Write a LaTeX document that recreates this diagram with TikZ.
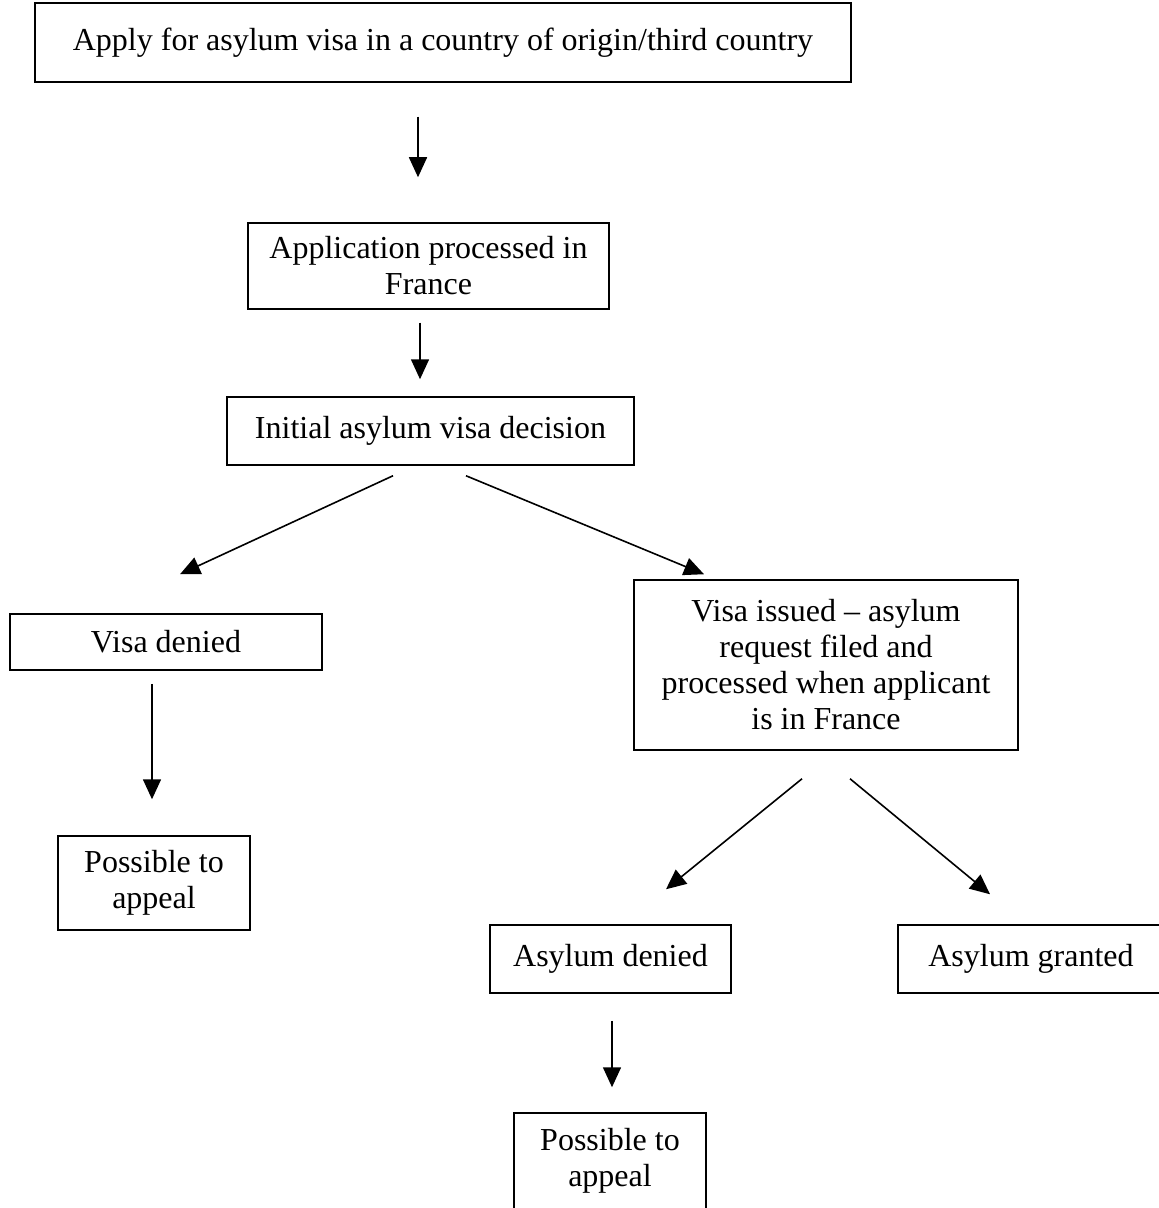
\documentclass[tikz,border=0pt]{standalone}
\usepackage{fontspec}
\setmainfont{Liberation Serif}
\usetikzlibrary{arrows.meta,calc}

\tikzset{
	stepbox/.style={draw, line width=0.75pt, align=center, inner sep=0pt,
		font=\fontsize{16}{18}\selectfont},
	arr/.style={line width=0.8pt, -{Triangle[length=10pt,width=9pt]}}
}

\begin{document}
\begin{tikzpicture}[x=0.5pt,y=-0.5pt]
	\useasboundingbox (0,0) rectangle (1159,1208);
	% boxes
	\node[stepbox, minimum width=408pt, minimum height=39.5pt] (apply) at (443,42.5)
		{Apply for asylum visa in a country of origin/third country};
	\node[stepbox, minimum width=180.5pt, minimum height=43pt] (proc) at (428.5,266)
		{Application processed in\\France};
	\node[stepbox, minimum width=203.5pt, minimum height=34pt] (dec) at (430.5,431)
		{Initial asylum visa decision};
	\node[stepbox, minimum width=156pt, minimum height=28pt] (vden) at (166,642)
		{Visa denied};
	\node[stepbox, minimum width=96pt, minimum height=47pt] (appone) at (154,883)
		{Possible to\\appeal};
	\node[stepbox, minimum width=192pt, minimum height=85pt] (issued) at (826,665)
		{Visa issued -- asylum\\request filed and\\processed when applicant\\is in France};
	\node[stepbox, minimum width=120.5pt, minimum height=34pt] (aden) at (610.5,959)
		{Asylum denied};
	\node[stepbox, minimum width=133pt, minimum height=34pt] (agr) at (1031,959)
		{Asylum granted};
	\node[stepbox, minimum width=96pt, minimum height=48pt] (apptwo) at (610,1161)
		{Possible to\\appeal};
	% arrows
	\draw[arr] ($(apply.south)+(-25,34)$) -- ($(proc.north)+(-10.5,-45)$);
	\draw[arr] ($(proc.south)+(-8.5,13)$) -- ($(dec.north)+(-10.5,-17)$);
	\draw[arr] ($(dec.south)+(-37.5,10)$) -- ($(vden.north)+(14,-39)$);
	\draw[arr] ($(dec.south)+(35.5,10)$) -- ($(issued.north)+(-122,-5)$);
	\draw[arr] ($(vden.south)+(-14,13)$) -- ($(appone.north)+(-2,-36)$);
	\draw[arr] ($(issued.south)+(-24,28)$) -- ($(aden.north)+(55.5,-35)$);
	\draw[arr] ($(issued.south)+(24,28)$) -- ($(agr.north)+(-41,-30)$);
	\draw[arr] ($(aden.south)+(1.5,27)$) -- ($(apptwo.north)+(2,-25)$);
\end{tikzpicture}
\end{document}
